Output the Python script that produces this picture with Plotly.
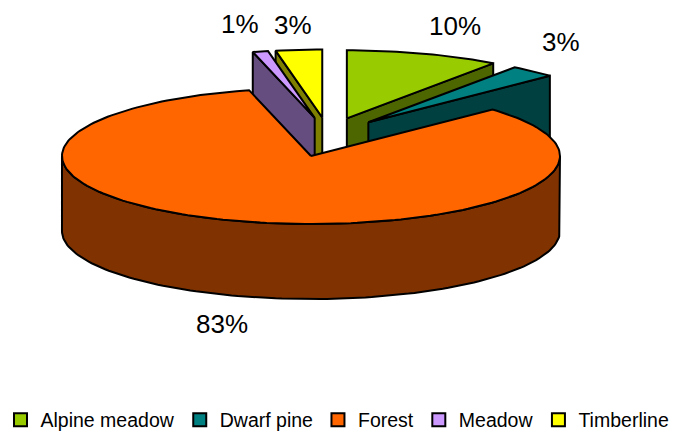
import math
import plotly.graph_objects as go

# ---------------- data ----------------
categories = ["Alpine meadow", "Dwarf pine", "Forest", "Meadow", "Timberline"]
shares = [10, 3, 83, 1, 3]
label_text = ["10%", "3%", "83%", "1%", "3%"]

# ---------------- styles ----------------
top_colors = ["#99CC00", "#008080", "#FF6600", "#CC99FF", "#FFFF00"]
side_colors = ["#4D6600", "#004040", "#803300", "#664D80", "#808000"]

W, H = 675, 434
CX, CY = 328.0, 137.1      # pie centre (px)
RX, RY = 249.0, 68.0       # ellipse radii (px)
DEPTH = 75.0               # thickness (px)
EXPLODE_X, EXPLODE_Y = 0.245, 0.29   # explosion fraction (screen x / y)
label_nudge = [(31, -28), (28, -29), (-20, 28), (-20, -27), (-6, -25)]
FONT = "Liberation Sans, Arial, sans-serif"

total = float(sum(shares))


def pt(cx, cy, ang, dz=0.0):
    a = math.radians(ang)
    return cx + RX * math.cos(a), cy - RY * math.sin(a) + dz


def arc(cx, cy, a0, a1, dz=0.0):
    n = max(2, int(abs(a1 - a0) / 1.5) + 2)
    return [pt(cx, cy, a0 + (a1 - a0) * k / (n - 1), dz) for k in range(n)]


slices = []
cum = 0.0
for i, v in enumerate(shares):
    a_s = 90.0 - cum / total * 360.0
    a_e = a_s - v / total * 360.0
    cum += v
    mid = (a_s + a_e) / 2.0
    m = math.radians(mid)
    cx = CX + EXPLODE_X * RX * math.cos(m)
    cy = CY - EXPLODE_Y * RY * math.sin(m)
    slices.append(dict(i=i, a_s=a_s, a_e=a_e, mid=mid, cx=cx, cy=cy))

order = sorted(slices, key=lambda s: -math.sin(math.radians(s["mid"])))

fig = go.Figure()


def poly(points, fill, name):
    xs = [p[0] for p in points] + [points[0][0]]
    ys = [p[1] for p in points] + [points[0][1]]
    fig.add_trace(go.Scatter(
        x=xs, y=ys, mode="lines", fill="toself", fillcolor=fill,
        line=dict(color="black", width=2), showlegend=False,
        hoverinfo="text", text=name))


# side faces (back to front)
for s in order:
    i, cx, cy = s["i"], s["cx"], s["cy"]
    name = categories[i]
    for th, normal in ((s["a_s"], s["a_s"] + 90.0), (s["a_e"], s["a_e"] - 90.0)):
        if math.sin(math.radians(normal)) < -1e-6:
            rt = pt(cx, cy, th)
            rb = pt(cx, cy, th, DEPTH)
            poly([(cx, cy), rt, rb, (cx, cy + DEPTH)], side_colors[i], name)
    lo_s, hi_s = s["a_e"], s["a_s"]
    for k in (-1, 0, 1):
        f_lo, f_hi = -180.0 + 360.0 * k, 0.0 + 360.0 * k
        lo, hi = max(lo_s, f_lo), min(hi_s, f_hi)
        if hi - lo > 1e-6:
            top = arc(cx, cy, lo, hi)
            bot = arc(cx, cy, hi, lo, DEPTH)
            poly(top + bot, side_colors[i], name)

# top faces (back to front)
for s in order:
    i, cx, cy = s["i"], s["cx"], s["cy"]
    poly([(cx, cy)] + arc(cx, cy, s["a_s"], s["a_e"]), top_colors[i], categories[i])

# labels
for s in slices:
    i = s["i"]
    rx, ry = pt(s["cx"], s["cy"], s["mid"])
    if math.sin(math.radians(s["mid"])) < 0:
        ry += DEPTH
    fig.add_annotation(x=rx + label_nudge[i][0], y=ry + label_nudge[i][1],
                       text=label_text[i], showarrow=False,
                       font=dict(family=FONT, size=26, color="black"),
                       xanchor="center", yanchor="middle")

# legend entries
for i, c in enumerate(categories):
    fig.add_trace(go.Scatter(
        x=[None], y=[None], mode="markers", name=c,
        marker=dict(symbol="square", size=13, color=top_colors[i],
                    line=dict(color="black", width=2))))

fig.update_layout(
    width=W, height=H, autosize=False,
    margin=dict(l=0, r=0, t=0, b=0, autoexpand=False),
    paper_bgcolor="white", plot_bgcolor="white",
    xaxis=dict(range=[0, W], visible=False, fixedrange=True),
    yaxis=dict(range=[H, 0], visible=False, fixedrange=True),
    showlegend=True,
    legend=dict(orientation="h", x=0.5, xanchor="center",
                y=1 - 420.0 / H, yanchor="middle",
                font=dict(family=FONT, size=19.5, color="black"),
                itemwidth=30, tracegroupgap=0, borderwidth=0,
                bgcolor="rgba(0,0,0,0)"),
)

fig.write_html("out.html")
